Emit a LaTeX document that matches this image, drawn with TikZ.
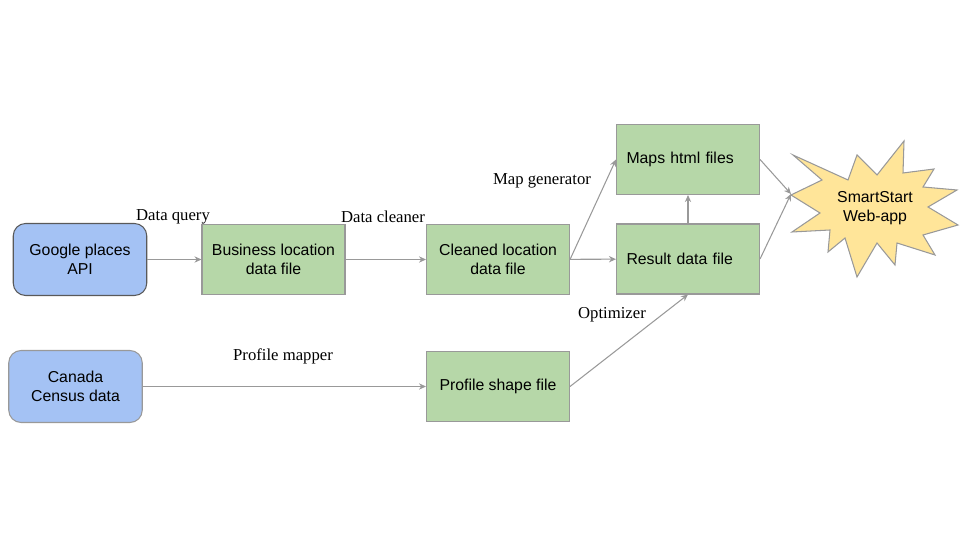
\documentclass[tikz,border=0pt]{standalone}
\usepackage{fontspec}
\setmainfont{Liberation Serif}
\newfontfamily\boxfont{Liberation Sans}
\usepackage{tikz}
\usetikzlibrary{arrows.meta,positioning}

\definecolor{srcblue}{HTML}{A4C2F4}
\definecolor{filegreen}{HTML}{B6D7A8}
\definecolor{appyellow}{HTML}{FFE599}
\definecolor{edgegrey}{HTML}{999999}
\definecolor{darkedge}{HTML}{595959}

\tikzset{
    source/.style={draw=edgegrey, line width=0.6pt, fill=srcblue, rounded corners=7pt,
        minimum width=2.67cm, minimum height=1.44cm, inner sep=0pt, align=center,
        font=\boxfont\fontsize{9}{10.8}\selectfont},
    datafile/.style={draw=edgegrey, line width=0.6pt, fill=filegreen,
        minimum width=2.86cm, minimum height=1.4cm, inner sep=0pt, align=center,
        font=\boxfont\fontsize{9}{10.8}\selectfont},
    leftfile/.style={datafile, text width=2.46cm, align=left},
    flow/.style={draw=edgegrey, line width=0.6pt, -{Stealth[length=4pt,width=3.6pt]}},
    steplabel/.style={font=\fontsize{9.5}{11}\selectfont}
}

\begin{document}
\begin{tikzpicture}
    \useasboundingbox (0,0) rectangle (19.2,10.8);

    % sources
    \node[source, draw=darkedge] (google) at (1.6, 5.61) {Google places\\API};
    \node[source] (canada) at (1.51, 3.07) {Canada\\Census data};

    % data files
    \node[datafile] (business) at (5.47, 5.61) {Business location\\data file};
    \node[datafile] (cleaned) at (9.96, 5.61) {Cleaned location\\data file};
    \node[leftfile] (result) at (13.76, 5.62) {Result data file};
    \node[leftfile] (maps) at (13.76, 7.61) {Maps html files};
    \node[datafile] (profile) at (9.96, 3.07) {Profile shape file};

    % web app
    \filldraw[fill=appyellow, draw=edgegrey, line width=0.6pt]
        (15.86,7.70) -- (16.96,7.20) -- (17.14,7.70) -- (17.54,7.30) -- (18.08,7.98) --
        (18.06,7.34) -- (18.68,7.42) -- (18.46,7.06) -- (19.14,7.00) -- (18.56,6.66) --
        (19.16,6.30) -- (18.46,6.10) -- (18.70,5.70) -- (17.94,5.94) -- (17.90,5.50) --
        (17.54,5.94) -- (17.14,5.26) -- (16.90,6.04) -- (16.56,5.76) -- (16.60,6.20) --
        (15.84,6.16) -- (16.40,6.54) -- (15.82,6.90) -- (16.44,7.20) -- cycle;
    \node[align=center, font=\boxfont\fontsize{9}{10.8}\selectfont] (app) at (17.5, 6.64) {SmartStart\\Web-app};
    \coordinate (apptip) at (15.82, 6.92);

    % step labels
    \node[steplabel] (lblquery) at (3.46, 6.47) {Data query};
    \node[steplabel] (lblcleaner) at (7.66, 6.47) {Data cleaner};
    \node[steplabel] (lblmapgen) at (10.84, 7.18) {Map generator};
    \node[steplabel] (lbloptim) at (12.24, 4.50) {Optimizer};
    \node[steplabel] (lblprofile) at (5.66, 3.68) {Profile mapper};

    % connectors
    \draw[flow] (google) -- (business);
    \draw[flow] (business) -- (cleaned);
    \draw[flow] (cleaned) -- (result);
    \draw[flow] (cleaned.east) -- (maps.west);
    \draw[flow] (result) -- (maps);
    \draw[flow] (maps.east) -- (apptip);
    \draw[flow] (result.east) -- (apptip);
    \draw[flow] (canada) -- (profile);
    \draw[flow] (profile.east) -- (result.south);
\end{tikzpicture}
\end{document}
